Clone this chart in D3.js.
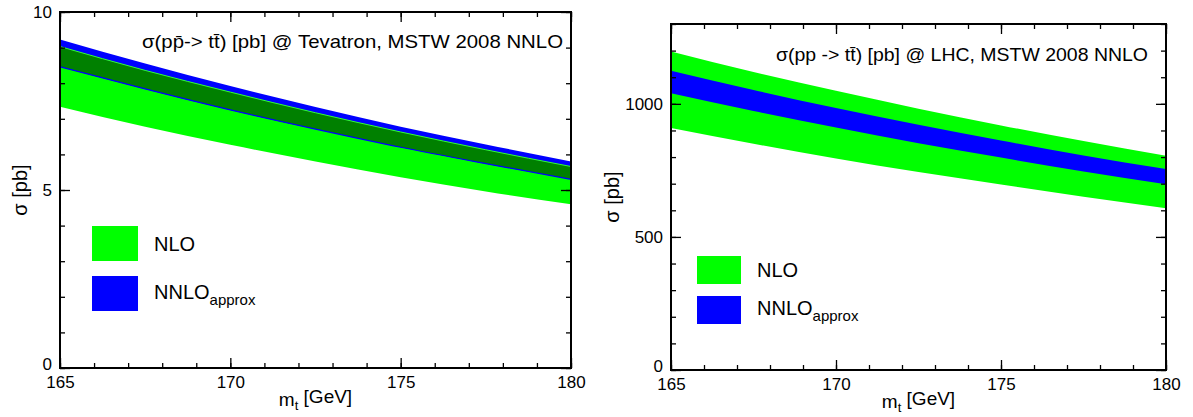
<!DOCTYPE html>
<meta charset="utf-8">
<script src="https://d3js.org/d3.v7.min.js"></script>
<style>
  body { margin: 0; background: #fff; }
  text { font-family: "Liberation Sans", Arial, sans-serif; fill: #000; }
</style>
<div id="chart"></div>
<script>

// top quark mass points [GeV]
var mass = [165, 167.5, 170, 172.5, 175, 177.5, 180];

// Tevatron cross section bands [pb]
var tevNloLo  = [7.34, 6.78, 6.27, 5.80, 5.36, 4.96, 4.60];
var tevNloHi  = [9.03, 8.36, 7.75, 7.17, 6.63, 6.13, 5.66];
var tevNnloLo = [8.46, 7.84, 7.25, 6.71, 6.20, 5.74, 5.30];
var tevNnloHi = [9.23, 8.55, 7.92, 7.33, 6.78, 6.28, 5.80];

// LHC cross section bands [pb]
var lhcNloLo  = [909, 850, 795, 744, 697, 651, 608];
var lhcNloHi  = [1197, 1120, 1049, 982, 919, 860, 805];
var lhcNnloLo = [1040, 973, 911, 852, 798, 746, 698];
var lhcNnloHi = [1124, 1052, 984, 921, 862, 806, 755];

// axis ticks
var xMajor = [165, 170, 175, 180];
var xMinor = d3.range(165, 181, 1);
var tevYMajor = [0, 5, 10];
var tevYMinor = d3.range(0, 11, 1);
var lhcYMajor = [0, 500, 1000];
var lhcYMinor = d3.range(0, 1301, 100);

var svg = d3.select("#chart").append("svg")
    .attr("width", 1193)
    .attr("height", 417);

function drawPanel(p) {
    var x = d3.scaleLinear().domain([165, 180]).range([p.x0, p.x1]);
    var y = d3.scaleLinear().domain([0, p.ymax]).range([p.y1, p.y0]);
    var g = svg.append("g");

    var band = function(lo, hi) {
        return d3.area()
            .x(function(d, i) { return x(mass[i]); })
            .y0(function(d, i) { return y(lo[i]); })
            .y1(function(d, i) { return y(hi[i]); })
            .curve(d3.curveMonotoneX)(mass);
    };
    var edge = function(v) {
        return d3.line()
            .x(function(d, i) { return x(mass[i]); })
            .y(function(d, i) { return y(v[i]); })
            .curve(d3.curveMonotoneX)(mass);
    };

    g.append("path").attr("d", band(p.nloLo, p.nloHi)).attr("fill", "#00ff00");
    g.append("path").attr("d", band(p.nnloLo, p.nnloHi)).attr("fill", "#0000ff");
    if (p.overlap) {
        var oLo = mass.map(function(d, i) { return Math.max(p.nloLo[i], p.nnloLo[i]); });
        var oHi = mass.map(function(d, i) { return Math.min(p.nloHi[i], p.nnloHi[i]); });
        g.append("path").attr("d", band(oLo, oHi)).attr("fill", "#008000");
        g.append("path").attr("d", edge(p.nloHi)).attr("fill", "none")
            .attr("stroke", "#33ff33").attr("stroke-width", 1);
        g.append("path").attr("d", edge(p.nnloLo)).attr("fill", "none")
            .attr("stroke", "#0000ff").attr("stroke-width", 1.2);
    }

    // ticks, ROOT style (inward, on all four sides)
    var axes = [
        [d3.axisBottom(x), "translate(0," + p.y1 + ")", xMajor, xMinor, true],
        [d3.axisTop(x), "translate(0," + p.y0 + ")", xMajor, xMinor, false],
        [d3.axisLeft(y), "translate(" + p.x0 + ",0)", p.yMajor, p.yMinor, true],
        [d3.axisRight(y), "translate(" + p.x1 + ",0)", p.yMajor, p.yMinor, false]
    ];
    axes.forEach(function(a, k) {
        var major = a[0].tickValues(a[2]).tickSize(-10).tickPadding(a[4] ? 8 : 0)
            .tickFormat(a[4] ? d3.format("d") : "");
        var ga = g.append("g").attr("transform", a[1]).call(major);
        ga.select(".domain").remove();
        ga.selectAll("line").attr("stroke", "#000").attr("stroke-width", 1.3);
        ga.selectAll("text").style("font-size", "17px")
            .style("font-family", "'Liberation Sans', Arial, sans-serif");
        // the "0" of the y axis sits just above the first x label, as in ROOT
        if (k == 2) ga.selectAll("text").filter(function(d) { return d == 0; })
            .attr("dy", "0.1em");

        var minorAxis = a[0].tickValues(a[3]).tickSize(-5).tickFormat("");
        var gm = g.append("g").attr("transform", a[1]).call(minorAxis);
        gm.select(".domain").remove();
        gm.selectAll("line").attr("stroke", "#000").attr("stroke-width", 1.3);
    });

    // frame
    g.append("rect")
        .attr("x", p.x0).attr("y", p.y0)
        .attr("width", p.x1 - p.x0).attr("height", p.y1 - p.y0)
        .attr("fill", "none").attr("stroke", "#000").attr("stroke-width", 2);

    // process title
    g.append("text")
        .attr("x", p.titleX).attr("y", p.titleY)
        .attr("text-anchor", "end")
        .attr("textLength", p.titleW)
        .attr("lengthAdjust", "spacingAndGlyphs")
        .style("font-size", "19px")
        .text(p.title);

    // x title
    var xt = g.append("text")
        .attr("x", (p.x0 + p.x1) / 2).attr("y", p.y1 + 38)
        .attr("text-anchor", "middle")
        .style("font-size", "19px");
    xt.append("tspan").text("m");
    xt.append("tspan").attr("dy", 4).style("font-size", "13px").text("t");
    xt.append("tspan").attr("dy", -7).text(" [GeV]");

    // y title
    g.append("text")
        .attr("transform", "translate(" + p.yTitleX + "," + (p.y0 + p.y1) / 2 + ") rotate(-90)")
        .attr("text-anchor", "middle")
        .style("font-size", "20px")
        .text("σ [pb]");

    // legend
    var colors = ["#00ff00", "#0000ff"];
    colors.forEach(function(c, i) {
        g.append("rect")
            .attr("x", p.legX).attr("y", p.legY[i])
            .attr("width", p.legW).attr("height", p.legH)
            .attr("fill", c);
    });
    g.append("text")
        .attr("x", p.legX + p.legW + 16).attr("y", p.legY[0] + p.legH / 2 + 7)
        .style("font-size", "20px").text("NLO");
    var nn = g.append("text")
        .attr("x", p.legX + p.legW + 16).attr("y", p.legY[1] + p.legH / 2 + 5)
        .style("font-size", "20px");
    nn.append("tspan").text("NNLO");
    nn.append("tspan").attr("dy", 6).style("font-size", "15px").text("approx");
}

drawPanel({
    x0: 60, x1: 571, y0: 12, y1: 368, ymax: 10,
    yMajor: tevYMajor, yMinor: tevYMinor,
    nloLo: tevNloLo, nloHi: tevNloHi, nnloLo: tevNnloLo, nnloHi: tevNnloHi,
    overlap: true,
    title: "σ(pp\u0304-> tt\u0304) [pb] @ Tevatron, MSTW 2008 NNLO",
    titleX: 563, titleY: 48, titleW: 421,
    yTitleX: 27,
    legX: 92, legY: [226, 276], legW: 46, legH: 35
});

drawPanel({
    x0: 671, x1: 1166, y0: 24, y1: 370, ymax: 1300,
    yMajor: lhcYMajor, yMinor: lhcYMinor,
    nloLo: lhcNloLo, nloHi: lhcNloHi, nnloLo: lhcNnloLo, nnloHi: lhcNnloHi,
    overlap: false,
    title: "σ(pp -> tt\u0304) [pb] @ LHC, MSTW 2008 NNLO",
    titleX: 1148, titleY: 61, titleW: 372,
    yTitleX: 619,
    legX: 697, legY: [256, 296], legW: 44, legH: 28
});

</script>
